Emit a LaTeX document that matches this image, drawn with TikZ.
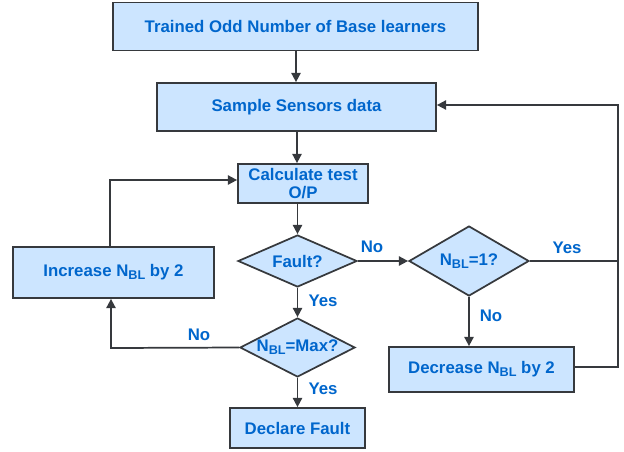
\documentclass[tikz,border=0pt]{standalone}
\usepackage{fontspec}
\setmainfont{Liberation Sans}
\usetikzlibrary{shapes.geometric,arrows.meta}
\definecolor{boxfill}{HTML}{CCE5FF}
\definecolor{boxline}{HTML}{36393D}
\definecolor{txt}{HTML}{0066CC}
\newcommand{\nbl}{N\raisebox{-0.35ex}{\fontsize{9.5}{10}\selectfont BL}}
\tikzset{
  base/.style={draw=boxline,fill=boxfill,line width=1.3pt,text=txt,font=\bfseries\fontsize{12.6}{14}\selectfont,inner sep=0pt,align=center},
  stepbox/.style={base,rectangle},
  decision/.style={base,diamond},
  conn/.style={draw=boxline,line width=1.3pt},
  arr/.style={conn,-{Triangle[length=7pt,width=7pt]}},
  lbl/.style={text=txt,font=\bfseries\fontsize{12.6}{14}\selectfont,inner sep=0pt}
}
\begin{document}
\begin{tikzpicture}[x=0.75pt,y=-0.75pt]
\useasboundingbox (0,0) rectangle (624,451);
\node[stepbox, minimum width=273.75pt, minimum height=36pt] (train) at (295.5,26.5) {Trained Odd Number of Base learners};
\node[stepbox, minimum width=209.25pt, minimum height=36pt] (sample) at (296.5,107) {Sample Sensors data};
\node[stepbox, minimum width=97.5pt, minimum height=29.25pt] (calc) at (303,183.5) {Calculate test\\O/P};
\node[decision, aspect=2.3, minimum width=89.25pt, minimum height=39pt] (fault) at (297.5,261) {Fault?};
\node[decision, aspect=1.7, minimum width=90pt, minimum height=52.5pt] (one) at (469,261) {\nbl=1?};
\node[decision, aspect=1.95, minimum width=86.25pt, minimum height=44.25pt] (max) at (297.5,347.5) {\nbl=Max?};
\node[stepbox, minimum width=150.75pt, minimum height=38.25pt] (inc) at (113.5,272.5) {Increase \nbl{} by 2};
\node[stepbox, minimum width=138.75pt, minimum height=33.75pt] (dec) at (481.5,369.5) {Decrease \nbl{} by 2};
\node[stepbox, minimum width=101.25pt, minimum height=30pt] (decl) at (297.5,428) {Declare Fault};
\coordinate (rt) at (618,105);
\coordinate (rm) at (618,261);
\coordinate (rb) at (618,367);
\coordinate (incTop) at (110,180);
\coordinate (maxCorner) at (111,348);
% connectors
\draw[arr] (train.south -| 296,0) -- (sample.north -| 296,0);
\draw[arr] (sample.south -| 297,0) -- (calc.north -| 297,0);
\draw[arr] (calc.south -| fault.north) -- (fault.north);
\draw[arr] (fault.east) -- (one.west);
\draw[arr] (fault.south) -- (max.north);
\draw[arr] (max.south) -- (decl.north -| max.south);
\draw[arr] (one.south) -- (dec.north -| one.south);
\draw[conn] (one.east) -- (rm);
\draw[arr] (dec.east |- rb) -- (rb) -- (rt) -- (sample.east |- rt);
\draw[arr] (inc.north -| incTop) -- (incTop) -- (calc.west |- incTop);
\draw[arr] (max.west) -- (maxCorner) -- (inc.south -| maxCorner);
% labels
\node[lbl] at (372,247) {No};
\node[lbl] at (567,248) {Yes};
\node[lbl] at (491,316) {No};
\node[lbl] at (323,301) {Yes};
\node[lbl] at (323,389) {Yes};
\node[lbl] at (199,335) {No};
\end{tikzpicture}
\end{document}
